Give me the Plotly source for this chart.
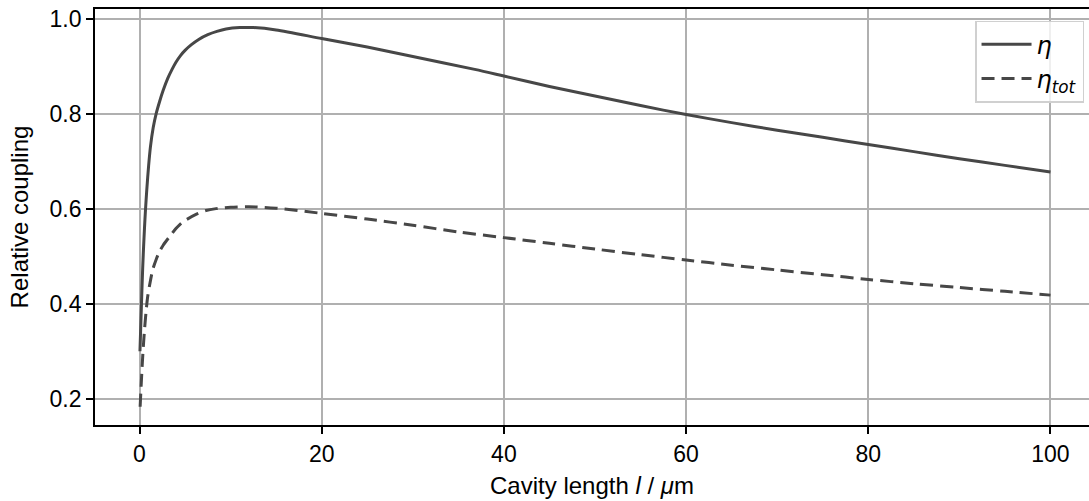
import plotly.graph_objects as go

# Cavity length (µm) and relative coupling
x_eta = [0.05, 0.15, 0.25, 0.35, 0.45, 0.55, 0.65, 0.8, 1.0, 1.2, 1.5, 1.83, 2.2, 2.6,
         3.1, 3.6, 4.0, 4.5, 5.0, 5.7, 6.5, 7.5, 8.5, 9.5, 11, 12.5, 15, 20, 25, 30,
         36.8, 40, 45, 50, 55, 60, 65, 70, 75, 80, 85, 90, 95, 100]
eta = [0.30, 0.36, 0.42, 0.475, 0.52, 0.56, 0.595, 0.64, 0.69, 0.73, 0.77, 0.80, 0.825,
       0.849, 0.874, 0.894, 0.908, 0.922, 0.933, 0.945, 0.956, 0.966, 0.973, 0.978,
       0.981, 0.981, 0.976, 0.958, 0.94, 0.92, 0.893, 0.879, 0.857, 0.837, 0.817,
       0.798, 0.781, 0.765, 0.750, 0.735, 0.72, 0.705, 0.691, 0.677]

x_tot = [0.07, 0.2, 0.37, 0.55, 0.73, 0.9, 1.1, 1.46, 1.83, 2.2, 2.6, 3.3, 4.0, 4.4,
         5.0, 6.2, 7.3, 8.4, 10, 12, 15, 20, 25, 30, 35, 40, 45, 50, 55, 60, 65, 70,
         75, 80, 85, 90, 95, 100]
eta_tot = [0.183, 0.235, 0.295, 0.345, 0.385, 0.415, 0.438, 0.472, 0.493, 0.510, 0.523,
           0.541, 0.558, 0.566, 0.575, 0.588, 0.596, 0.600, 0.603, 0.604, 0.601, 0.590,
           0.578, 0.565, 0.551, 0.539, 0.527, 0.515, 0.503, 0.492, 0.481, 0.471, 0.461,
           0.451, 0.442, 0.434, 0.426, 0.418]

x_ticks = [0, 20, 40, 60, 80, 100]
y_ticks = [0.2, 0.4, 0.6, 0.8, 1.0]
y_ticklabels = ["0.2", "0.4", "0.6", "0.8", "1.0"]

LINE = "#474747"
FONT = "Liberation Sans, Arial, sans-serif"

fig = go.Figure()
fig.add_trace(go.Scatter(x=x_eta, y=eta, mode="lines", name="<i>η</i>",
                         line=dict(color=LINE, width=3, shape="spline", smoothing=0.8)))
fig.add_trace(go.Scatter(x=x_tot, y=eta_tot, mode="lines", name="<i>η<sub>tot</sub></i>",
                         line=dict(color=LINE, width=3, dash="13px,7px",
                                   shape="spline", smoothing=0.8)))

fig.update_layout(
    width=1089, height=501,
    margin=dict(l=95, r=0, t=9, b=76),
    plot_bgcolor="white", paper_bgcolor="white",
    font=dict(family=FONT, size=23, color="black"),
    showlegend=True,
    legend=dict(x=0.995, y=0.972, xanchor="right", yanchor="top",
                bgcolor="rgba(255,255,255,0.8)", bordercolor="#d0d0d0", borderwidth=1.5,
                itemwidth=50,
                font=dict(family="DejaVu Sans, sans-serif", size=24)),
    xaxis=dict(range=[-4.885, 104.23], tickvals=x_ticks, ticks="outside", ticklen=7,
               tickwidth=1.5, tickcolor="black", showline=True, linecolor="black",
               linewidth=1.8, mirror=True, showgrid=True, gridcolor="#b0b0b0",
               gridwidth=1.5, zeroline=False, tickfont=dict(size=23),
               title=dict(text="Cavity length <i>l</i> / <i>μ</i>m", standoff=12,
                          font=dict(size=24))),
    yaxis=dict(range=[0.1447, 1.0201], tickvals=y_ticks, ticktext=y_ticklabels,
               ticks="outside", ticklen=7, tickwidth=1.5, tickcolor="black",
               showline=True, linecolor="black", linewidth=1.8, showgrid=True,
               gridcolor="#b0b0b0", gridwidth=1.5, zeroline=False, tickfont=dict(size=23),
               title=dict(text="Relative coupling", standoff=14, font=dict(size=24))),
)

fig.write_html("out.html")
